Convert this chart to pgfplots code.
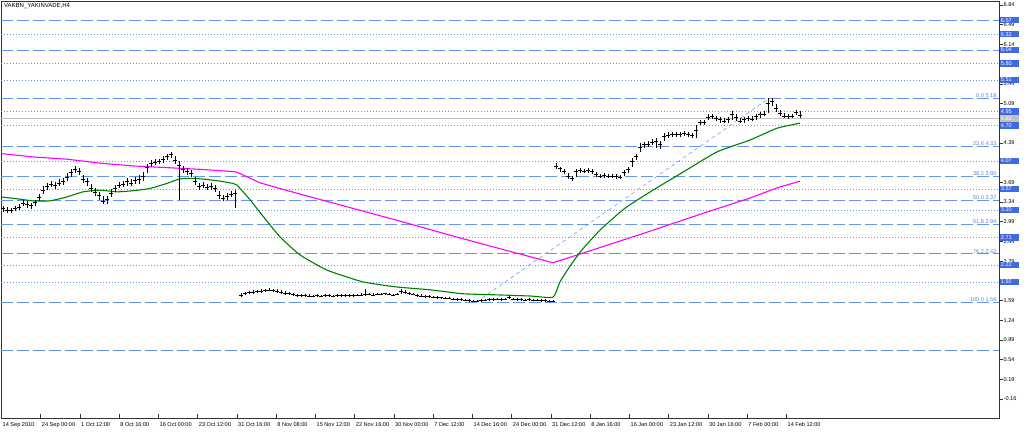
\documentclass[border=0pt]{standalone}
\usepackage{fontspec}
\setmainfont{Liberation Sans}
\usepackage{pgfplots}
\usepackage{pgfplotstable}
\pgfplotsset{compat=1.18}
\definecolor{lvl}{RGB}{100,149,237}
\definecolor{boxb}{RGB}{65,105,225}
\definecolor{fibt}{RGB}{90,130,230}
\definecolor{magc}{RGB}{255,0,255}
\definecolor{grn}{RGB}{0,128,0}
\definecolor{bidg}{RGB}{192,192,192}
\newcommand{\lblfont}{\fontsize{5.6}{6}\selectfont}

\pgfplotstableread{
x c h l
3 3.22 3.27 3.17
7 3.20 3.25 3.15
11 3.19 3.24 3.14
15 3.22 3.27 3.18
19 3.25 3.30 3.20
23 3.32 3.37 3.27
27 3.30 3.35 3.24
31 3.28 3.33 3.22
35 3.33 3.38 3.27
39 3.42 3.48 3.36
43 3.55 3.62 3.48
47 3.62 3.68 3.55
51 3.66 3.72 3.60
55 3.63 3.70 3.57
59 3.68 3.74 3.62
63 3.70 3.76 3.64
67 3.78 3.85 3.71
71 3.86 3.92 3.79
75 3.92 3.98 3.85
79 3.88 3.95 3.82
83 3.74 3.82 3.68
87 3.70 3.76 3.63
91 3.58 3.66 3.52
95 3.52 3.58 3.45
99 3.45 3.52 3.38
103 3.36 3.44 3.30
107 3.38 3.44 3.31
111 3.50 3.57 3.42
115 3.58 3.64 3.52
119 3.64 3.70 3.58
123 3.66 3.72 3.60
127 3.70 3.76 3.63
131 3.68 3.75 3.62
135 3.72 3.78 3.66
139 3.74 3.82 3.66
143 3.80 3.87 3.72
147 3.95 4.02 3.85
151 4.02 4.08 3.96
155 4.05 4.10 4.00
159 4.06 4.11 4.01
163 4.10 4.16 4.04
167 4.15 4.20 4.08
171 4.18 4.22 4.12
175 4.08 4.16 4.02
179 4.00 4.06 3.38
183 3.92 3.98 3.86
187 3.88 3.94 3.82
191 3.85 3.91 3.78
195 3.70 3.78 3.64
199 3.62 3.68 3.56
203 3.64 3.70 3.58
207 3.60 3.66 3.55
211 3.62 3.68 3.56
215 3.58 3.64 3.52
219 3.45 3.54 3.40
223 3.40 3.46 3.35
227 3.44 3.50 3.38
231 3.48 3.54 3.42
235 3.50 3.56 3.23
}\segA

\pgfplotstableread{
x c h l
241 1.69 1.72 1.66
245 1.71 1.74 1.68
249 1.73 1.76 1.70
253 1.74 1.77 1.71
257 1.75 1.78 1.72
261 1.76 1.79 1.73
265 1.77 1.80 1.74
269 1.78 1.81 1.75
273 1.77 1.80 1.74
277 1.76 1.79 1.73
281 1.74 1.77 1.71
285 1.72 1.75 1.69
289 1.71 1.74 1.68
293 1.70 1.73 1.67
297 1.69 1.71 1.66
301 1.68 1.71 1.65
305 1.68 1.70 1.66
309 1.67 1.70 1.65
313 1.67 1.69 1.65
317 1.68 1.70 1.66
321 1.67 1.69 1.65
325 1.68 1.71 1.66
329 1.68 1.70 1.66
333 1.67 1.69 1.65
337 1.68 1.70 1.66
341 1.68 1.70 1.66
345 1.69 1.71 1.66
349 1.68 1.70 1.66
353 1.68 1.70 1.66
357 1.69 1.71 1.67
361 1.69 1.72 1.67
365 1.70 1.80 1.67
369 1.70 1.72 1.68
373 1.69 1.72 1.67
377 1.70 1.72 1.68
381 1.70 1.72 1.68
385 1.71 1.73 1.69
389 1.70 1.72 1.68
393 1.69 1.71 1.67
397 1.70 1.73 1.68
401 1.76 1.80 1.70
405 1.73 1.77 1.70
409 1.71 1.74 1.69
413 1.70 1.72 1.68
417 1.68 1.71 1.66
421 1.67 1.70 1.65
425 1.66 1.69 1.64
429 1.66 1.68 1.64
433 1.65 1.67 1.63
437 1.64 1.67 1.62
441 1.64 1.66 1.62
445 1.63 1.66 1.61
449 1.63 1.65 1.61
453 1.62 1.64 1.60
457 1.61 1.63 1.59
461 1.61 1.63 1.59
465 1.60 1.62 1.58
469 1.59 1.61 1.57
473 1.58 1.60 1.56
477 1.58 1.60 1.56
481 1.59 1.61 1.57
485 1.60 1.62 1.58
489 1.61 1.63 1.59
493 1.61 1.63 1.59
497 1.62 1.64 1.60
501 1.61 1.63 1.59
505 1.62 1.64 1.60
509 1.64 1.67 1.61
513 1.62 1.64 1.60
517 1.61 1.63 1.59
521 1.61 1.63 1.59
525 1.60 1.62 1.58
529 1.61 1.63 1.59
533 1.60 1.62 1.58
537 1.60 1.62 1.58
541 1.59 1.61 1.57
545 1.59 1.61 1.57
549 1.58 1.60 1.56
553 1.58 1.60 1.56
}\segB

\pgfplotstableread{
x c h l
556 3.98 4.03 3.93
560 3.93 3.97 3.88
564 3.88 3.92 3.83
568 3.80 3.86 3.75
572 3.76 3.81 3.72
576 3.88 3.92 3.78
580 3.90 3.94 3.86
584 3.89 3.93 3.85
588 3.90 3.94 3.86
592 3.88 3.92 3.84
596 3.83 3.87 3.79
600 3.80 3.84 3.76
604 3.81 3.85 3.77
608 3.80 3.84 3.76
612 3.80 3.83 3.76
616 3.79 3.83 3.75
620 3.78 3.82 3.75
624 3.86 3.90 3.80
628 3.92 3.96 3.86
632 4.06 4.12 3.96
636 4.15 4.20 4.08
640 4.32 4.38 4.22
644 4.36 4.41 4.30
648 4.37 4.42 4.32
652 4.40 4.45 4.35
656 4.42 4.47 4.30
660 4.36 4.42 4.28
664 4.50 4.56 4.43
668 4.53 4.58 4.48
672 4.54 4.58 4.49
676 4.55 4.59 4.50
680 4.54 4.58 4.50
684 4.56 4.60 4.51
688 4.55 4.59 4.50
692 4.52 4.57 4.47
696 4.62 4.70 4.48
700 4.75 4.80 4.70
704 4.76 4.80 4.71
708 4.85 4.90 4.79
712 4.86 4.90 4.81
716 4.82 4.87 4.77
720 4.80 4.85 4.75
724 4.78 4.83 4.74
728 4.80 4.85 4.75
732 4.90 4.96 4.80
736 4.84 4.90 4.78
740 4.78 4.84 4.74
744 4.80 4.85 4.75
748 4.82 4.86 4.77
752 4.81 4.86 4.77
756 4.86 4.90 4.80
760 4.90 4.94 4.84
764 4.90 4.95 4.86
768 5.10 5.19 4.92
772 5.12 5.18 5.04
776 5.00 5.08 4.94
780 4.92 4.98 4.86
784 4.87 4.92 4.83
788 4.86 4.90 4.82
792 4.87 4.91 4.83
796 4.94 4.98 4.88
800 4.88 4.96 4.84
}\segC

\pgfplotsset{ohlc/.style={only marks, mark=-, mark size=1.8bp, mark options={black, line width=0.6bp},
  error bars/.cd, y dir=both, y explicit, error mark=none, error bar style={black, line width=0.9bp}}}

\newcommand{\dotl}[1]{\addplot[lvl, line width=0.6bp, dash pattern=on 1bp off 2bp] coordinates {(1,#1) (999,#1)};}
\newcommand{\dashl}[1]{\addplot[lvl, line width=0.6bp, dash pattern=on 12bp off 4bp] coordinates {(1,#1) (999,#1)};}
\newcommand{\fib}[2]{\node[anchor=south east, text=fibt, font=\lblfont, inner sep=0.4bp] at (axis cs:997,#2) {#1 #2};}
\newcommand{\bc}[2]{\coordinate (#1) at (axis cs:999.5,#2);}
\newcommand{\bx}[3]{\node[anchor=west, fill=#3, text=white, font=\lblfont, inner xsep=1.2bp, inner ysep=0pt, minimum height=6.5bp, text width=17bp, align=left] at (#1) {#2};}

\begin{document}
\begin{tikzpicture}
\begin{axis}[
  at={(1bp,15bp)}, anchor=south west,
  scale only axis, width=998bp, height=417bp,
  xmin=1, xmax=999, ymin=-0.497, ymax=6.91,
  clip mode=individual,
  axis line style={black!80, line width=0.6bp},
  tick align=outside, major tick length=4bp,
  tick style={black!80, line width=0.5bp},
  x tick style={yshift=4bp},
  xtick pos=bottom, ytick pos=right, yticklabel pos=right,
  xtick={1.5,40.75,...,786.5},
  xticklabels={14 Sep 2010, 24 Sep 00:00, 1 Oct 12:00, 8 Oct 16:00, 16 Oct 00:00, 23 Oct 12:00, 31 Oct 16:00, 8 Nov 08:00, 15 Nov 12:00, 22 Nov 16:00, 30 Nov 00:00, 7 Dec 12:00, 14 Dec 16:00, 24 Dec 00:00, 31 Dec 12:00, 8 Jan 16:00, 16 Jan 00:00, 23 Jan 12:00, 30 Jan 16:00, 7 Feb 00:00, 14 Feb 12:00},
  xticklabel style={font=\lblfont, anchor=north west, inner sep=0.5bp, xshift=0.5bp},
  ytick={-0.16,0.19,0.54,0.89,1.24,1.59,1.94,2.29,2.64,2.99,3.34,3.69,4.04,4.39,4.74,5.09,5.44,5.79,6.14,6.49,6.84},
  yticklabels={-0.16,0.19,0.54,0.89,1.24,1.59,,2.29,2.64,2.99,3.34,3.69,,4.39,,5.09,5.44,,6.14,6.49,6.84},
  yticklabel style={font=\lblfont, anchor=west, inner sep=0.5bp},
]
% horizontal levels
\dashl{6.57}
\dotl{6.32}
\dashl{6.04}
\dotl{5.80}
\dotl{5.51}
\dotl{4.95}
\dotl{4.70}
\dotl{4.07}
\dotl{3.57}
\dotl{3.20}
\dotl{2.71}
\dotl{2.22}
\dotl{1.92}
\dashl{0.70}
\addplot[bidg, line width=0.6bp] coordinates {(1,4.82) (999,4.82)};
% fibonacci levels
\dashl{5.18}
\dashl{4.33}
\dashl{3.80}
\dashl{3.37}
\dashl{2.94}
\dashl{2.42}
\dashl{1.56}
\addplot[lvl, line width=0.5bp, dash pattern=on 4bp off 3bp] coordinates {(476,1.56) (769,5.18)};
% moving averages
\addplot[magc, line width=1.1bp] coordinates {(1,4.20) (33,4.14) (67,4.10) (100,4.03) (133,3.98) (167,3.95) (200,3.92) (233,3.88) (237,3.87) (260,3.68) (300,3.48) (350,3.24) (400,3.00) (450,2.75) (500,2.51) (553,2.26) (600,2.53) (650,2.82) (700,3.12) (750,3.41) (777,3.59) (800,3.71)};
\addplot[grn, line width=1.1bp, smooth, tension=0.3] coordinates {(1,3.43) (20,3.39) (33,3.36) (50,3.36) (67,3.43) (83,3.52) (100,3.55) (117,3.52) (133,3.54) (150,3.58) (167,3.67) (180,3.75) (193,3.76) (207,3.74) (220,3.71) (233,3.67) (237,3.64) (250,3.38) (262,3.11) (280,2.72) (300,2.40) (327,2.13) (363,1.92) (397,1.83) (430,1.78) (463,1.71) (497,1.69) (530,1.67) (553,1.65) (560,1.92) (570,2.20) (582,2.49) (600,2.84) (625,3.23) (653,3.55) (683,3.87) (717,4.23) (750,4.44) (777,4.65) (800,4.74)};
% price bars
\addplot[ohlc] table[x=x, y=c, y error plus expr=\thisrow{h}-\thisrow{c}, y error minus expr=\thisrow{c}-\thisrow{l}] {\segA};
\addplot[ohlc] table[x=x, y=c, y error plus expr=\thisrow{h}-\thisrow{c}, y error minus expr=\thisrow{c}-\thisrow{l}] {\segB};
\addplot[ohlc] table[x=x, y=c, y error plus expr=\thisrow{h}-\thisrow{c}, y error minus expr=\thisrow{c}-\thisrow{l}] {\segC};
% fib labels
\fib{0.0}{5.18}
\fib{23.6}{4.33}
\fib{38.2}{3.80}
\fib{50.0}{3.37}
\fib{61.8}{2.94}
\fib{76.2}{2.42}
\fib{100.0}{1.56}
% anchor points for the right price boxes
\bc{pA}{6.57}
\bc{pB}{6.32}
\bc{pC}{6.04}
\bc{pD}{5.80}
\bc{pE}{5.51}
\bc{pF}{4.95}
\bc{pG}{4.82}
\bc{pH}{4.70}
\bc{pI}{4.07}
\bc{pJ}{3.57}
\bc{pK}{3.20}
\bc{pL}{2.71}
\bc{pM}{2.22}
\bc{pN}{1.92}
\node[anchor=north west, font=\fontsize{6}{7}\selectfont, inner sep=0.5bp] at (rel axis cs:0,1) [xshift=2.5bp, yshift=-2bp] {VAKBN\_YAKINVADE,H4};
\end{axis}
\bx{pA}{6.57}{boxb}
\bx{pB}{6.32}{boxb}
\bx{pC}{6.04}{boxb}
\bx{pD}{5.80}{boxb}
\bx{pE}{5.51}{boxb}
\bx{pF}{4.95}{boxb}
\bx{pG}{4.82}{bidg}
\bx{pH}{4.70}{boxb}
\bx{pI}{4.07}{boxb}
\bx{pJ}{3.57}{boxb}
\bx{pK}{3.20}{boxb}
\bx{pL}{2.71}{boxb}
\bx{pM}{2.22}{boxb}
\bx{pN}{1.92}{boxb}
\pgfresetboundingbox
\path[use as bounding box] (0,0) rectangle (1024bp,433bp);
\end{tikzpicture}
\end{document}
